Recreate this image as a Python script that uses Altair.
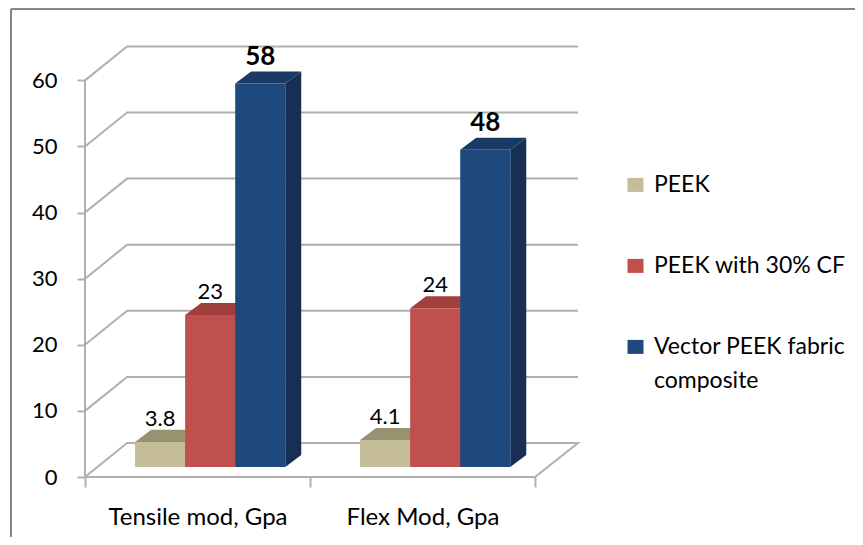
import altair as alt
import pandas as pd

categories = ["Tensile mod, Gpa", "Flex Mod, Gpa"]
series = ["PEEK", "PEEK with 30% CF", "Vector PEEK fabric composite"]
peek = [3.8, 4.1]
peek_cf = [23, 24]
vector = [58, 48]
labels = [["3.8", "4.1"], ["23", "24"], ["58", "48"]]
front_colors = ["#c4bd97", "#c0504d", "#1f497d"]
top_colors = ["#97926f", "#a03f3c", "#1a3a66"]
side_colors = ["#8f8a69", "#8f3a38", "#172f55"]
y_ticks = [0, 10, 20, 30, 40, 50, 60]
x_ticks = [0, 0.5, 1, 1.5, 2]

FONT = "Lato"
GRID = "#b0b0b0"
X_MAX, Y_MAX = 2.191, 65.2
WALL_X, WALL_Y = 0.187, 5.14
BAR_X, BAR_Y = 0.071, 1.82
BASE = 1.51
BAR_W, BAR_START = 0.2225, 0.2225

x_scale = alt.Scale(domain=[0, X_MAX], nice=False, zero=False)
y_scale = alt.Scale(domain=[0, Y_MAX], nice=False, zero=False)
x_axis = alt.Axis(
    values=x_ticks, title=None, grid=False, domain=False,
    tickSize=10, tickWidth=2, tickColor=GRID,
    tickOpacity=alt.expr("datum.value % 1 == 0 ? 1 : 0"),
    labelExpr="datum.value == 0.5 ? 'Tensile mod, Gpa' : datum.value == 1.5 ? 'Flex Mod, Gpa' : ''",
    labelFont=FONT, labelFontSize=24, labelColor="#000000", labelPadding=18,
    labelAlign="center", labelBaseline="top", labelOverlap=False, labelFlush=False)
y_axis = alt.Axis(
    values=y_ticks, title=None, grid=False, domain=False,
    tickSize=8, tickWidth=2, tickColor=GRID,
    labelFont=FONT, labelFontSize=22, labelColor="#000000", labelPadding=20)
X = lambda f: alt.X(f, type="quantitative", scale=x_scale, axis=x_axis)
Y = lambda f: alt.Y(f, type="quantitative", scale=y_scale, axis=y_axis)

grid_rows = []
for v in y_ticks:
    grid_rows += [
        {"g": v, "o": 0, "x": 0, "y": v},
        {"g": v, "o": 1, "x": WALL_X, "y": v + WALL_Y},
        {"g": v, "o": 2, "x": X_MAX, "y": v + WALL_Y},
    ]
grid_rows.append({"g": 0, "o": 3, "x": 2, "y": 0})
grid_rows.append({"g": 0, "o": 4, "x": 0, "y": 0})
grid = (
    alt.Chart(pd.DataFrame(grid_rows))
    .mark_line(color=GRID, strokeWidth=2, interpolate="linear")
    .encode(x=X("x"), y=Y("y"), detail="g:N", order="o:Q")
)
left_axis = (
    alt.Chart(pd.DataFrame({"x": [0], "y": [0], "y2": [60]}))
    .mark_rule(color=GRID, strokeWidth=2)
    .encode(x=X("x"), y=Y("y"), y2="y2:Q")
)

front_rows, top_rows, side_rows, text_rows = [], [], [], []
values = [peek, peek_cf, vector]
for si, s in enumerate(series):
    for ci, c in enumerate(categories):
        v = values[si][ci]
        x0 = ci + BAR_START + si * BAR_W
        x1 = x0 + BAR_W
        top = BASE + v
        bid = f"{si}-{ci}"
        front_rows.append({"series": s, "x": x0, "x2": x1, "y": BASE, "y2": top})
        top_rows += [
            {"b": bid, "c": top_colors[si], "x": x0, "x2": x1, "y": top},
            {"b": bid, "c": top_colors[si], "x": x0 + BAR_X, "x2": x1 + BAR_X, "y": top + BAR_Y},
        ]
        side_rows += [
            {"b": bid, "c": side_colors[si], "x": x1, "y": BASE, "y2": top},
            {"b": bid, "c": side_colors[si], "x": x1 + BAR_X, "y": BASE + BAR_Y, "y2": top + BAR_Y},
        ]
        text_rows.append({"t": labels[si][ci], "x": x0 + BAR_W / 2, "y": top + BAR_Y, "bold": si == 2})

tops = (
    alt.Chart(pd.DataFrame(top_rows))
    .mark_area(orient="horizontal", interpolate="linear")
    .encode(x=X("x"), x2="x2:Q", y=Y("y"), detail="b:N",
            fill=alt.Fill("c:N", scale=None, legend=None))
)
sides = (
    alt.Chart(pd.DataFrame(side_rows))
    .mark_area(orient="vertical", interpolate="linear")
    .encode(x=X("x"), y=Y("y"), y2="y2:Q", detail="b:N",
            fill=alt.Fill("c:N", scale=None, legend=None))
)
fronts = (
    alt.Chart(pd.DataFrame(front_rows))
    .mark_rect()
    .encode(
        x=X("x"), x2="x2:Q", y=Y("y"), y2="y2:Q",
        color=alt.Color(
            "series:N",
            scale=alt.Scale(domain=series, range=front_colors),
            legend=alt.Legend(
                title=None, orient="none", legendX=539, legendY=134,
                symbolType="M-1,-1.7H1V0.05H-1Z", symbolSize=256, symbolStrokeWidth=0,
                labelFont=FONT, labelFontSize=23, labelColor="#000000",
                labelBaseline="alphabetic", labelOffset=7, rowPadding=57, labelLimit=300,
                labelExpr="datum.label == 'Vector PEEK fabric composite' ? ['Vector PEEK fabric', 'composite'] : datum.label",
            ),
        ),
    )
)
text_df = pd.DataFrame(text_rows)
texts = (
    alt.Chart(text_df[~text_df.bold])
    .mark_text(font=FONT, fontSize=22, color="#000000", baseline="middle", dy=-11)
    .encode(x=X("x"), y=Y("y"), text="t:N")
)
texts_bold = (
    alt.Chart(text_df[text_df.bold])
    .mark_text(font=FONT, fontSize=26, fontWeight="bold", color="#000000", baseline="middle", dy=-15)
    .encode(x=X("x"), y=Y("y"), text="t:N")
)
frame_v = alt.Chart(pd.DataFrame({"a": [0]})).mark_rule(color="#868686", strokeWidth=2).encode(
    x=alt.value(-74), y=alt.value(-37), y2=alt.value(491))
frame_h = alt.Chart(pd.DataFrame({"a": [0]})).mark_rule(color="#868686", strokeWidth=2).encode(
    x=alt.value(-74), x2=alt.value(770), y=alt.value(-37))

chart = (
    alt.layer(frame_v, frame_h, grid, left_axis, tops, sides, fronts, texts, texts_bold)
    .properties(
        width=493, height=431, background="#ffffff",
        autosize=alt.AutoSizeParams(type="none", contains="content"),
        padding={"left": 77, "top": 38, "right": 277, "bottom": 60},
    )
    .configure_view(stroke=None)
)
chart.config.style = {"guide-label": {"lineHeight": 34}}
chart.save("out.html", embed_options={"renderer": "svg", "actions": False})
